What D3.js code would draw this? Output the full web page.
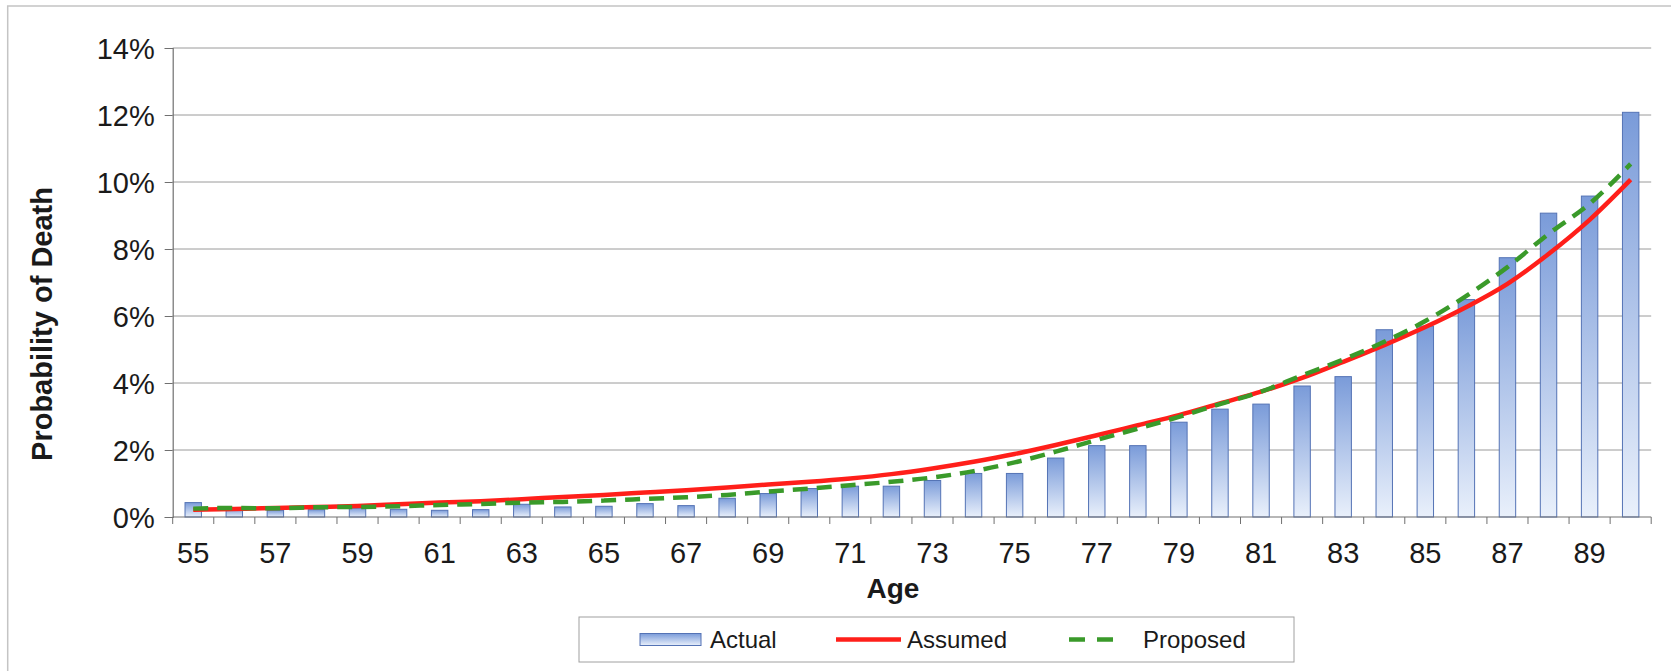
<!DOCTYPE html>
<html>
<head>
<meta charset="utf-8">
<script src="https://cdn.jsdelivr.net/npm/d3@7"></script>
<style>
  html, body { margin: 0; padding: 0; background: #fff; }
  svg { display: block; font-family: "Liberation Sans", Arial, sans-serif; }
</style>
</head>
<body>
<svg id="chart" width="1671" height="671"></svg>
<script>
// ---- data ----
const ages = [55,56,57,58,59,60,61,62,63,64,65,66,67,68,69,70,71,72,73,74,75,76,77,78,79,80,81,82,83,84,85,86,87,88,89,90];
const actual = [0.43,0.25,0.20,0.22,0.27,0.23,0.20,0.22,0.38,0.30,0.32,0.40,0.34,0.56,0.70,0.85,0.92,0.92,1.09,1.30,1.30,1.76,2.13,2.13,2.83,3.22,3.37,3.91,4.19,5.59,5.70,6.49,7.74,9.07,9.58,12.08];
const assumed = [0.22,0.24,0.27,0.30,0.33,0.38,0.43,0.47,0.53,0.60,0.66,0.73,0.80,0.88,0.97,1.05,1.15,1.28,1.45,1.65,1.88,2.15,2.44,2.74,3.04,3.39,3.74,4.15,4.63,5.13,5.67,6.27,6.96,7.85,8.87,10.07];
const proposed = [0.25,0.27,0.26,0.29,0.30,0.32,0.36,0.39,0.43,0.45,0.49,0.54,0.59,0.66,0.76,0.85,0.95,1.05,1.18,1.37,1.63,1.95,2.30,2.64,2.99,3.37,3.74,4.23,4.70,5.23,5.85,6.60,7.46,8.45,9.35,10.54];
const yTicks = [0,2,4,6,8,10,12,14];
const seriesNames = ["Actual","Assumed","Proposed"];
const xTitle = "Age";
const yTitle = "Probability of Death";

// ---- layout ----
const W = 1671, H = 671;
const L = 172.7, R = 1651.2, T = 48, B = 517;

const svg = d3.select("#chart");

// outer chart border
svg.append("path")
  .attr("d", `M7.7,${H} V6 H${W}`)
  .attr("fill", "none").attr("stroke", "#c4c4c4").attr("stroke-width", 1.5);

const x = d3.scaleBand().domain(ages).range([L, R]).padding(0);
const y = d3.scaleLinear().domain([0, 14]).range([B, T]);
const bw = x.bandwidth();

// gradient
const defs = svg.append("defs");
const grad = defs.append("linearGradient").attr("id", "barGrad")
  .attr("x1", 0).attr("y1", 0).attr("x2", 0).attr("y2", 1);
grad.append("stop").attr("offset", "0%").attr("stop-color", "#7a9bd9");
grad.append("stop").attr("offset", "100%").attr("stop-color", "#e9f0fb");

// gridlines
svg.append("g").selectAll("line").data(yTicks.filter(d => d > 0)).join("line")
  .attr("x1", L).attr("x2", R)
  .attr("y1", d => y(d)).attr("y2", d => y(d))
  .attr("stroke", "#9a9a9a").attr("stroke-width", 1);

// y axis
const yAxis = svg.append("g").attr("transform", `translate(${L},0)`)
  .call(d3.axisLeft(y).tickValues(yTicks).tickFormat(d => d + "%").tickSize(8).tickPadding(10));
yAxis.select(".domain").attr("stroke", "#707070").attr("stroke-width", 1.2);
yAxis.selectAll(".tick line").attr("stroke", "#707070");
yAxis.selectAll(".tick text")
  .attr("font-family", "Liberation Sans, Arial, sans-serif")
  .attr("font-size", 29).attr("fill", "#1a1a1a").attr("dy", "0.36em");

// bars
svg.append("g").selectAll("rect").data(ages).join("rect")
  .attr("x", (d) => x(d) + bw * 0.3)
  .attr("width", bw * 0.4)
  .attr("y", (d, i) => y(actual[i]))
  .attr("height", (d, i) => B - y(actual[i]))
  .attr("fill", "url(#barGrad)")
  .attr("stroke", "#5473b5").attr("stroke-width", 1);

// x axis
const xAxis = svg.append("g");
xAxis.append("line").attr("x1", L).attr("x2", R).attr("y1", B).attr("y2", B)
  .attr("stroke", "#707070").attr("stroke-width", 1.2);
xAxis.selectAll("line.tk").data(ages.concat(["end"])).join("line").attr("class", "tk")
  .attr("x1", d => d === "end" ? R : x(d)).attr("x2", d => d === "end" ? R : x(d))
  .attr("y1", B).attr("y2", B + 7)
  .attr("stroke", "#707070").attr("stroke-width", 1);
xAxis.selectAll("text").data(ages.filter((d, i) => i % 2 === 0)).join("text")
  .attr("x", d => x(d) + bw / 2).attr("y", 563)
  .attr("text-anchor", "middle").attr("font-size", 29).attr("fill", "#1a1a1a")
  .text(d => d);

// lines
const line = (arr) => d3.line()
  .x((d, i) => x(ages[i]) + bw / 2)
  .y(d => y(d))
  .curve(d3.curveMonotoneX)(arr);

svg.append("path").attr("d", line(assumed))
  .attr("fill", "none").attr("stroke", "#ff1f1a").attr("stroke-width", 4.5);
svg.append("path").attr("d", line(proposed))
  .attr("fill", "none").attr("stroke", "#3a9a2a").attr("stroke-width", 4.5)
  .attr("stroke-dasharray", "15,9");

// axis titles
svg.append("text").attr("x", 893).attr("y", 598)
  .attr("text-anchor", "middle").attr("font-size", 28).attr("font-weight", "bold")
  .attr("fill", "#1a1a1a").text(xTitle);
svg.append("text").attr("transform", "translate(51.5,324) rotate(-90)")
  .attr("text-anchor", "middle").attr("font-size", 29).attr("font-weight", "bold")
  .attr("fill", "#1a1a1a").text(yTitle);

// legend
const lg = svg.append("g");
lg.append("rect").attr("x", 579).attr("y", 617).attr("width", 715).attr("height", 45)
  .attr("fill", "#fff").attr("stroke", "#a0a0a0").attr("stroke-width", 1);
const ly = 639.5;
lg.append("rect").attr("x", 640).attr("y", ly - 6).attr("width", 61).attr("height", 12)
  .attr("fill", "url(#barGrad)").attr("stroke", "#5473b5").attr("stroke-width", 1);
lg.append("line").attr("x1", 836).attr("x2", 901).attr("y1", ly).attr("y2", ly)
  .attr("stroke", "#ff1f1a").attr("stroke-width", 4.5);
lg.append("line").attr("x1", 1069).attr("x2", 1113).attr("y1", ly).attr("y2", ly)
  .attr("stroke", "#3a9a2a").attr("stroke-width", 4.5).attr("stroke-dasharray", "16,12");
const lx = [710, 907, 1143];
lg.selectAll("text.lt").data(seriesNames).join("text").attr("class", "lt")
  .attr("x", (d, i) => lx[i]).attr("y", 647.5)
  .attr("font-size", 24).attr("fill", "#1a1a1a").text(d => d);
</script>
</body>
</html>
